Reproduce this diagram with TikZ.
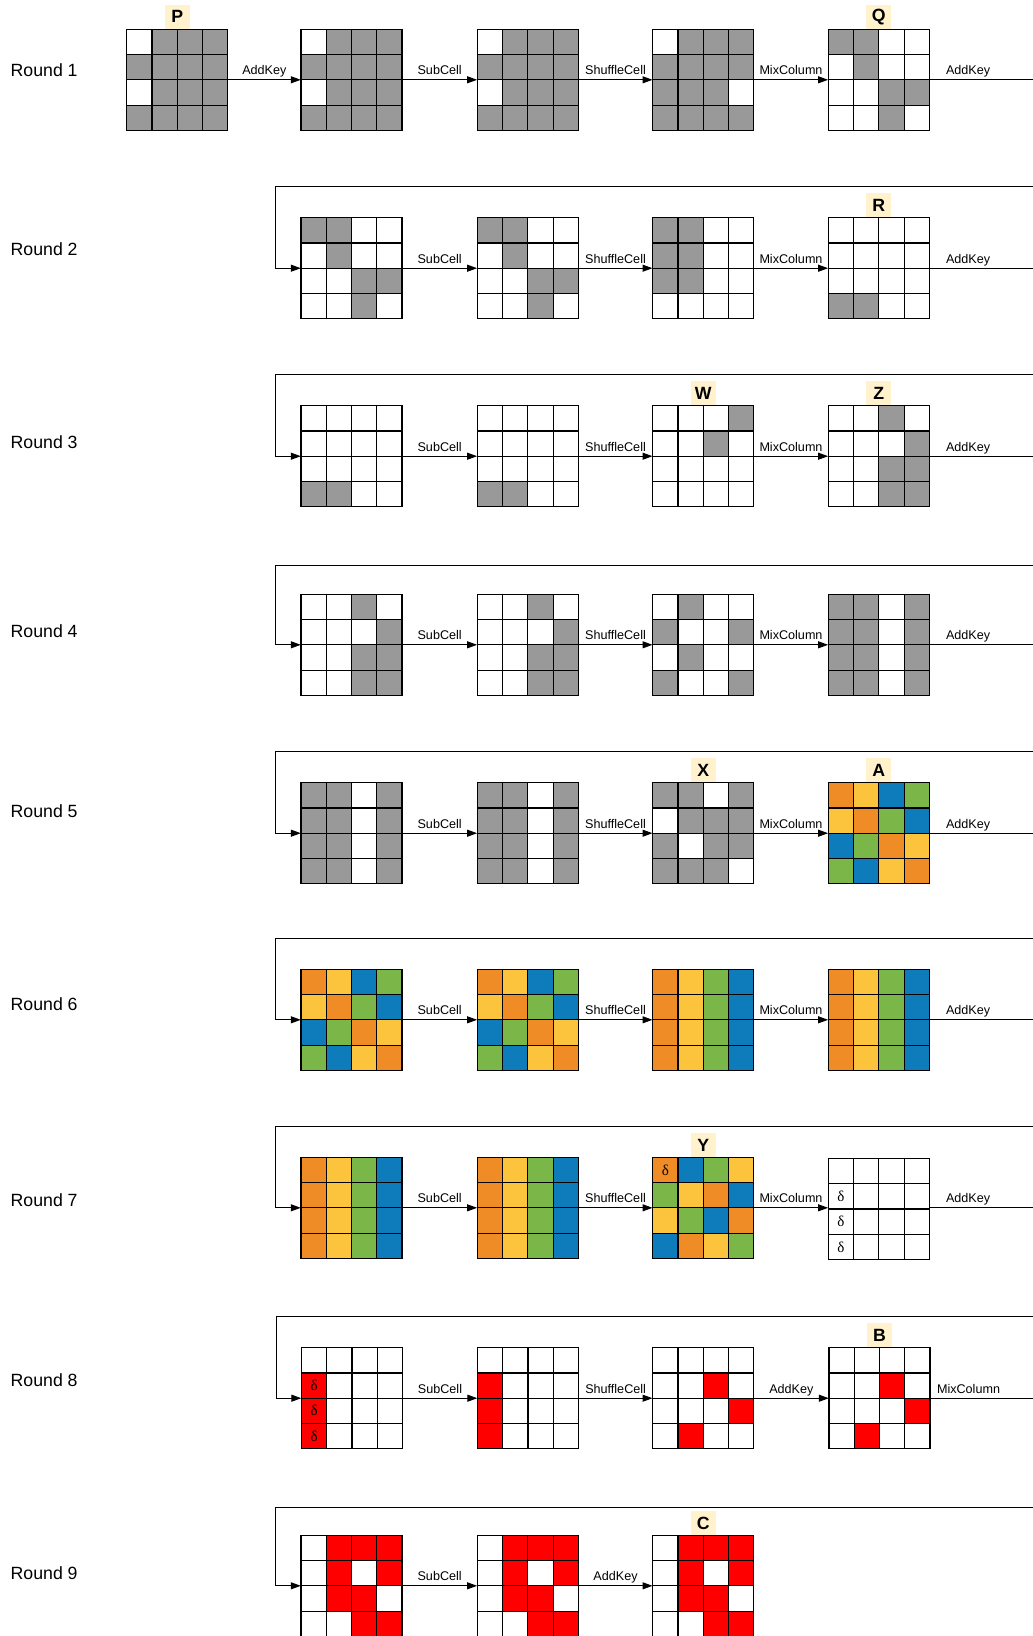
\documentclass[tikz,border=0pt]{standalone}
\usepackage{fontspec}
\setmainfont{Liberation Sans}
\newfontfamily\serifd{Liberation Serif}
\usetikzlibrary{arrows.meta}
\definecolor{cw}{HTML}{FFFFFF}
\definecolor{cg}{HTML}{999999}
\definecolor{co}{HTML}{F08C26}
\definecolor{cy}{HTML}{FBC43C}
\definecolor{cb}{HTML}{0E7BBA}
\definecolor{cn}{HTML}{7AB648}
\definecolor{cr}{HTML}{FF0000}
\definecolor{tagbg}{HTML}{FFF2CC}
\newcommand{\cellsz}{25.25}
\newcommand{\drawgrid}[4]{%
  \node[gridbox] (#1) at ({#2+50.5},{#3+50.5}) {};
  \foreach \cc [count=\ii from 0] in {#4} {
    \pgfmathtruncatemacro\gcolm{mod(\ii,4)}
    \pgfmathtruncatemacro\growm{div(\ii,4)}
    \filldraw[fill=\cc, draw=black, line width=1.1pt] ({#2+\gcolm*\cellsz},{#3+\growm*\cellsz}) rectangle ++(\cellsz,\cellsz);
  }
}
\begin{document}
\begin{tikzpicture}[x=1pt,y=-1pt,
  gridbox/.style={draw=none,minimum size=101pt,inner sep=0pt},
  arr/.style={-{Triangle[length=10pt,width=7pt]},line width=1pt,black},
  plain/.style={line width=1pt,black},
  lbl/.style={anchor=base,yshift=5pt,inner sep=0pt,font=\fontsize{12.6}{14}\selectfont},
  rlbl/.style={anchor=west,inner sep=0pt,font=\fontsize{17.7}{20}\selectfont},
  tag/.style={anchor=south,fill=tagbg,minimum width=25pt,minimum height=24pt,inner sep=0pt,font=\bfseries\fontsize{17.7}{20}\selectfont},
  dlt/.style={inner sep=0pt,font=\serifd\fontsize{15}{16}\selectfont}]
\useasboundingbox (0,0) rectangle (1033,1636);
\fill[white] (0,0) rectangle (1033,1636);

% ---------- Round labels
\node[rlbl] (L1) at (10.5,70) {Round 1};
\node[rlbl] (L2) at (10.5,249.4) {Round 2};
\node[rlbl] (L3) at (10.5,442.4) {Round 3};
\node[rlbl] (L4) at (10.5,631.3) {Round 4};
\node[rlbl] (L5) at (10.5,810.7) {Round 5};
\node[rlbl] (L6) at (10.5,1003.8) {Round 6};
\node[rlbl] (L7) at (10.5,1200) {Round 7};
\node[rlbl] (L8) at (10.5,1380.4) {Round 8};
\node[rlbl] (L9) at (10.5,1573.5) {Round 9};

% ---------- Round 1
\drawgrid{r1a}{126.7}{29.3}{cw,cg,cg,cg,cg,cg,cg,cg,cw,cg,cg,cg,cg,cg,cg,cg}
\drawgrid{r1b}{301}{29.3}{cw,cg,cg,cg,cg,cg,cg,cg,cw,cg,cg,cg,cg,cg,cg,cg}
\drawgrid{r1c}{477.3}{29.3}{cw,cg,cg,cg,cg,cg,cg,cg,cw,cg,cg,cg,cg,cg,cg,cg}
\drawgrid{r1d}{652.7}{29.3}{cw,cg,cg,cg,cg,cg,cg,cg,cg,cg,cg,cw,cg,cg,cg,cg}
\drawgrid{r1e}{828.3}{29.3}{cg,cg,cw,cw,cw,cg,cw,cw,cw,cw,cg,cg,cw,cw,cg,cw}
\node[tag] (tP) at (r1a.north) {P};
\node[tag] (tQ) at (r1e.north) {Q};
\coordinate (r1out) at (1033,79.8);
\draw[arr] (r1a.east) -- node[lbl] {AddKey} (r1b.west);
\draw[arr] (r1b.east) -- node[lbl] {SubCell} (r1c.west);
\draw[arr] (r1c.east) -- node[lbl] {ShuffleCell} (r1d.west);
\draw[arr] (r1d.east) -- node[lbl] {MixColumn} (r1e.west);
\draw[plain] (r1e.east) -- node[lbl,pos=0.373] {AddKey} (r1out);

% ---------- Round 2
\drawgrid{r2b}{301}{217.7}{cg,cg,cw,cw,cw,cg,cw,cw,cw,cw,cg,cg,cw,cw,cg,cw}
\drawgrid{r2c}{477.3}{217.7}{cg,cg,cw,cw,cw,cg,cw,cw,cw,cw,cg,cg,cw,cw,cg,cw}
\drawgrid{r2d}{652.7}{217.7}{cg,cg,cw,cw,cg,cg,cw,cw,cg,cg,cw,cw,cw,cw,cw,cw}
\drawgrid{r2e}{828.3}{217.7}{cw,cw,cw,cw,cw,cw,cw,cw,cw,cw,cw,cw,cg,cg,cw,cw}
\node[tag] (tR) at (r2e.north) {R};
\coordinate (r2fb) at (1033,186.5);
\coordinate (r2turn) at (275.5,186.5);
\coordinate (r2out) at (1033,268.2);
\draw[arr] (r2fb) -- (r2turn) |- (r2b.west);
\draw[arr] (r2b.east) -- node[lbl] {SubCell} (r2c.west);
\draw[arr] (r2c.east) -- node[lbl] {ShuffleCell} (r2d.west);
\draw[arr] (r2d.east) -- node[lbl] {MixColumn} (r2e.west);
\draw[plain] (r2e.east) -- node[lbl,pos=0.373] {AddKey} (r2out);

% ---------- Round 3
\drawgrid{r3b}{301}{405.7}{cw,cw,cw,cw,cw,cw,cw,cw,cw,cw,cw,cw,cg,cg,cw,cw}
\drawgrid{r3c}{477.3}{405.7}{cw,cw,cw,cw,cw,cw,cw,cw,cw,cw,cw,cw,cg,cg,cw,cw}
\drawgrid{r3d}{652.7}{405.7}{cw,cw,cw,cg,cw,cw,cg,cw,cw,cw,cw,cw,cw,cw,cw,cw}
\drawgrid{r3e}{828.3}{405.7}{cw,cw,cg,cw,cw,cw,cw,cg,cw,cw,cg,cg,cw,cw,cg,cg}
\node[tag] (tW) at (r3d.north) {W};
\node[tag] (tZ) at (r3e.north) {Z};
\coordinate (r3fb) at (1033,374.7);
\coordinate (r3turn) at (275.5,374.7);
\coordinate (r3out) at (1033,456.2);
\draw[arr] (r3fb) -- (r3turn) |- (r3b.west);
\draw[arr] (r3b.east) -- node[lbl] {SubCell} (r3c.west);
\draw[arr] (r3c.east) -- node[lbl] {ShuffleCell} (r3d.west);
\draw[arr] (r3d.east) -- node[lbl] {MixColumn} (r3e.west);
\draw[plain] (r3e.east) -- node[lbl,pos=0.373] {AddKey} (r3out);

% ---------- Round 4
\drawgrid{r4b}{301}{594.3}{cw,cw,cg,cw,cw,cw,cw,cg,cw,cw,cg,cg,cw,cw,cg,cg}
\drawgrid{r4c}{477.3}{594.3}{cw,cw,cg,cw,cw,cw,cw,cg,cw,cw,cg,cg,cw,cw,cg,cg}
\drawgrid{r4d}{652.7}{594.3}{cw,cg,cw,cw,cg,cw,cw,cg,cw,cg,cw,cw,cg,cw,cw,cg}
\drawgrid{r4e}{828.3}{594.3}{cg,cg,cw,cg,cg,cg,cw,cg,cg,cg,cw,cg,cg,cg,cw,cg}
\coordinate (r4fb) at (1033,565.7);
\coordinate (r4turn) at (275.5,565.7);
\coordinate (r4out) at (1033,644.8);
\draw[arr] (r4fb) -- (r4turn) |- (r4b.west);
\draw[arr] (r4b.east) -- node[lbl] {SubCell} (r4c.west);
\draw[arr] (r4c.east) -- node[lbl] {ShuffleCell} (r4d.west);
\draw[arr] (r4d.east) -- node[lbl] {MixColumn} (r4e.west);
\draw[plain] (r4e.east) -- node[lbl,pos=0.373] {AddKey} (r4out);

% ---------- Round 5
\drawgrid{r5b}{301}{782.7}{cg,cg,cw,cg,cg,cg,cw,cg,cg,cg,cw,cg,cg,cg,cw,cg}
\drawgrid{r5c}{477.3}{782.7}{cg,cg,cw,cg,cg,cg,cw,cg,cg,cg,cw,cg,cg,cg,cw,cg}
\drawgrid{r5d}{652.7}{782.7}{cg,cg,cw,cg,cw,cg,cg,cg,cg,cw,cg,cg,cg,cg,cg,cw}
\drawgrid{r5e}{828.3}{782.7}{co,cy,cb,cn,cy,co,cn,cb,cb,cn,co,cy,cn,cb,cy,co}
\node[tag] (tX) at (r5d.north) {X};
\node[tag] (tA) at (r5e.north) {A};
\coordinate (r5fb) at (1033,751.7);
\coordinate (r5turn) at (275.5,751.7);
\coordinate (r5out) at (1033,833.2);
\draw[arr] (r5fb) -- (r5turn) |- (r5b.west);
\draw[arr] (r5b.east) -- node[lbl] {SubCell} (r5c.west);
\draw[arr] (r5c.east) -- node[lbl] {ShuffleCell} (r5d.west);
\draw[arr] (r5d.east) -- node[lbl] {MixColumn} (r5e.west);
\draw[plain] (r5e.east) -- node[lbl,pos=0.373] {AddKey} (r5out);

% ---------- Round 6
\drawgrid{r6b}{301}{969.3}{co,cy,cb,cn,cy,co,cn,cb,cb,cn,co,cy,cn,cb,cy,co}
\drawgrid{r6c}{477.3}{969.3}{co,cy,cb,cn,cy,co,cn,cb,cb,cn,co,cy,cn,cb,cy,co}
\drawgrid{r6d}{652.7}{969.3}{co,cy,cn,cb,co,cy,cn,cb,co,cy,cn,cb,co,cy,cn,cb}
\drawgrid{r6e}{828.3}{969.3}{co,cy,cn,cb,co,cy,cn,cb,co,cy,cn,cb,co,cy,cn,cb}
\coordinate (r6fb) at (1033,938.3);
\coordinate (r6turn) at (275.5,938.3);
\coordinate (r6out) at (1033,1019.8);
\draw[arr] (r6fb) -- (r6turn) |- (r6b.west);
\draw[arr] (r6b.east) -- node[lbl] {SubCell} (r6c.west);
\draw[arr] (r6c.east) -- node[lbl] {ShuffleCell} (r6d.west);
\draw[arr] (r6d.east) -- node[lbl] {MixColumn} (r6e.west);
\draw[plain] (r6e.east) -- node[lbl,pos=0.373] {AddKey} (r6out);

% ---------- Round 7
\drawgrid{r7b}{301}{1157.3}{co,cy,cn,cb,co,cy,cn,cb,co,cy,cn,cb,co,cy,cn,cb}
\drawgrid{r7c}{477.3}{1157.3}{co,cy,cn,cb,co,cy,cn,cb,co,cy,cn,cb,co,cy,cn,cb}
\drawgrid{r7d}{652.7}{1157.3}{co,cb,cn,cy,cn,cy,co,cb,cy,cn,cb,co,cb,co,cy,cn}
\drawgrid{r7e}{828.3}{1158.5}{cw,cw,cw,cw,cw,cw,cw,cw,cw,cw,cw,cw,cw,cw,cw,cw}
\node[tag] (tY) at (r7d.north) {Y};
\node[dlt] (d7a) at ({652.7+12.6},{1157.3+12.6}) {δ};
\node[dlt] (d7b) at ({828.3+12.6},{1158.5+25.25+12.6}) {δ};
\node[dlt] (d7c) at ({828.3+12.6},{1158.5+50.5+12.6}) {δ};
\node[dlt] (d7d) at ({828.3+12.6},{1158.5+75.75+12.6}) {δ};
\coordinate (r7fb) at (1033,1126.3);
\coordinate (r7turn) at (275.5,1126.3);
\coordinate (r7out) at (1033,1207.8);
\draw[arr] (r7fb) -- (r7turn) |- (r7b.west);
\draw[arr] (r7b.east) -- node[lbl] {SubCell} (r7c.west);
\draw[arr] (r7c.east) -- node[lbl] {ShuffleCell} (r7d.west);
\draw[arr] (r7d.east) -- node[lbl] {MixColumn} (r7e.west|-r7d.east);
\draw[plain] (r7e.east|-r7d.east) -- node[lbl,pos=0.373] {AddKey} (r7out);

% ---------- Round 8
\drawgrid{r8b}{301.5}{1347.7}{cw,cw,cw,cw,cr,cw,cw,cw,cr,cw,cw,cw,cr,cw,cw,cw}
\drawgrid{r8c}{477.5}{1347.7}{cw,cw,cw,cw,cr,cw,cw,cw,cr,cw,cw,cw,cr,cw,cw,cw}
\drawgrid{r8d}{652.7}{1347.7}{cw,cw,cw,cw,cw,cw,cr,cw,cw,cw,cw,cr,cw,cr,cw,cw}
\drawgrid{r8e}{829}{1347.7}{cw,cw,cw,cw,cw,cw,cr,cw,cw,cw,cw,cr,cw,cr,cw,cw}
\node[tag] (tB) at (r8e.north) {B};
\node[dlt] (d8a) at ({301.5+12.6},{1347.7+25.25+12.6}) {δ};
\node[dlt] (d8b) at ({301.5+12.6},{1347.7+50.5+12.6}) {δ};
\node[dlt] (d8c) at ({301.5+12.6},{1347.7+75.75+12.6}) {δ};
\coordinate (r8fb) at (1033,1316.5);
\coordinate (r8turn) at (276,1316.5);
\coordinate (r8out) at (1033,1398.2);
\draw[arr] (r8fb) -- (r8turn) |- (r8b.west);
\draw[arr] (r8b.east) -- node[lbl] {SubCell} (r8c.west);
\draw[arr] (r8c.east) -- node[lbl] {ShuffleCell} (r8d.west);
\draw[arr] (r8d.east) -- node[lbl] {AddKey} (r8e.west);
\draw[plain] (r8e.east) -- node[lbl,pos=0.373] {MixColumn} (r8out);

% ---------- Round 9
\drawgrid{r9b}{301}{1535.3}{cw,cr,cr,cr,cw,cr,cw,cr,cw,cr,cr,cw,cw,cw,cr,cr}
\drawgrid{r9c}{477.3}{1535.3}{cw,cr,cr,cr,cw,cr,cw,cr,cw,cr,cr,cw,cw,cw,cr,cr}
\drawgrid{r9d}{652.7}{1535.3}{cw,cr,cr,cr,cw,cr,cw,cr,cw,cr,cr,cw,cw,cw,cr,cr}
\node[tag] (tC) at (r9d.north) {C};
\coordinate (r9fb) at (1033,1507);
\coordinate (r9turn) at (275.5,1507);
\draw[arr] (r9fb) -- (r9turn) |- (r9b.west);
\draw[arr] (r9b.east) -- node[lbl] {SubCell} (r9c.west);
\draw[arr] (r9c.east) -- node[lbl] {AddKey} (r9d.west);
\end{tikzpicture}
\end{document}
